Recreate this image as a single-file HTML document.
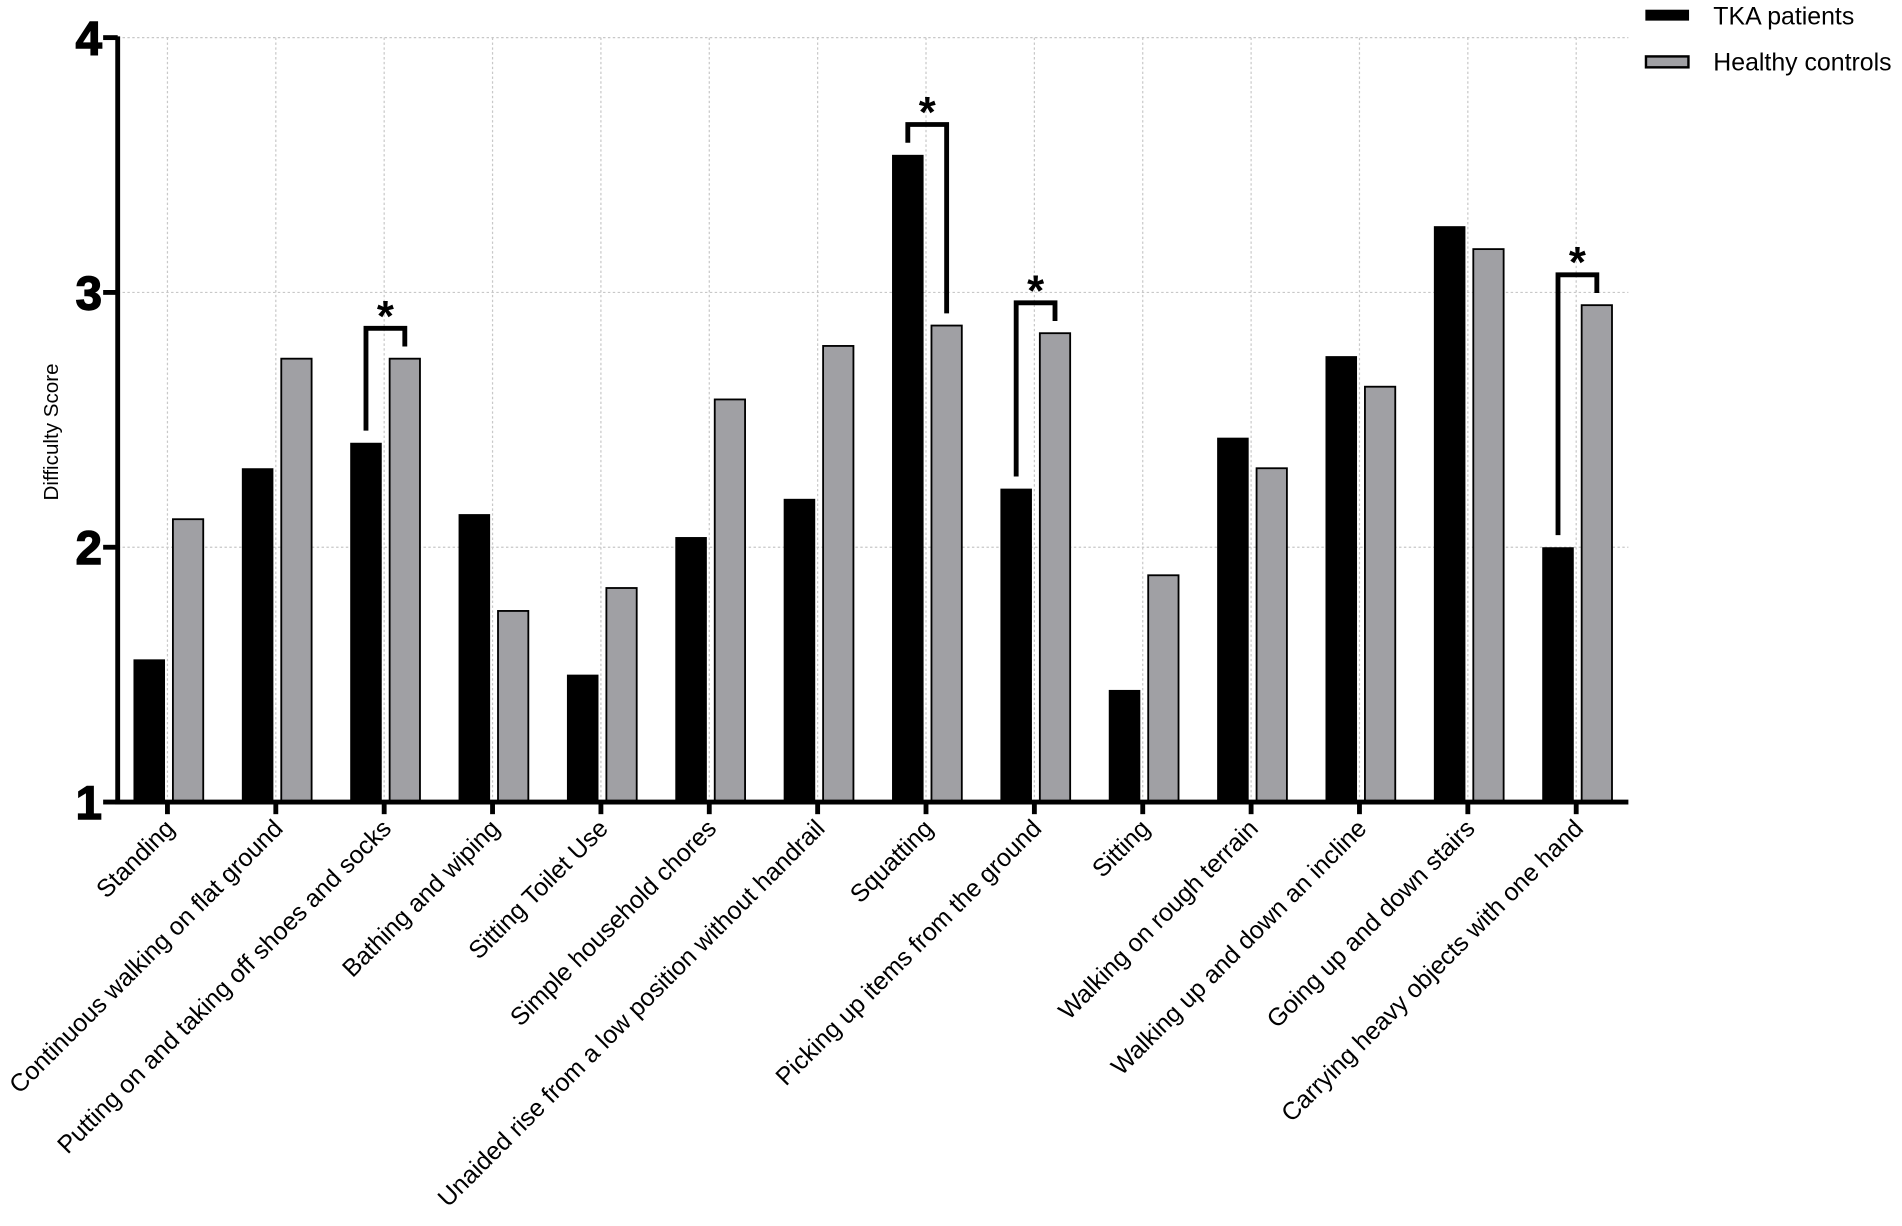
<!DOCTYPE html>
<html><head><meta charset="utf-8"><style>
html,body{margin:0;padding:0;background:#fff;}
svg{display:block;}
text{font-family:"Liberation Sans",Arial,sans-serif;}
</style></head><body>
<svg id="chart" width="1902" height="1226" viewBox="0 0 1567.5 1010.4" preserveAspectRatio="none" xmlns="http://www.w3.org/2000/svg">
<g id="grid"></g>
<g id="bars"></g>
<g id="axes"></g>
<g id="sig"></g>
<text x="48" y="356" font-size="17" text-anchor="middle" transform="rotate(-90 48 356)">Difficulty Score</text>
<g>
<g><rect x="1356" y="8" width="36" height="9" fill="#000"/><text x="1412" y="20" font-size="20.5">TKA patients</text></g>
<g><rect x="1356.5" y="46.5" width="35" height="9" fill="#a0a0a4" stroke="#000" stroke-width="2"/><text x="1412" y="58" font-size="20.5">Healthy controls</text></g>
</g>
</svg>
<script>
const categories=["Standing","Continuous walking on flat ground","Putting on and taking off shoes and socks","Bathing and wiping","Sitting Toilet Use","Simple household chores","Unaided rise from a low position without handrail","Squatting","Picking up items from the ground","Sitting","Walking on rough terrain","Walking up and down an incline","Going up and down stairs","Carrying heavy objects with one hand"];
const tkaValues=[1.56,2.31,2.41,2.13,1.50,2.04,2.19,3.54,2.23,1.44,2.43,2.75,3.26,2.00];
const controlValues=[2.11,2.74,2.74,1.75,1.84,2.58,2.79,2.87,2.84,1.89,2.31,2.63,3.17,2.95];
const yTicks=[1,2,3,4];
const sigIndices=[2,7,8,13];

const NS="http://www.w3.org/2000/svg";
const X0=97,X1=1342,Y0=661,Y1=31,YMIN=1,YMAX=4;
const step=(1299-138)/13;
function xc(i){return 138+i*step;}
function y(v){return Y0-(v-YMIN)/(YMAX-YMIN)*(Y0-Y1);}
function mk(tag,attrs,parent){const e=document.createElementNS(NS,tag);for(const k in attrs)e.setAttribute(k,attrs[k]);parent.appendChild(e);return e;}
const grid=document.getElementById('grid'),bars=document.getElementById('bars'),axes=document.getElementById('axes'),sig=document.getElementById('sig');

yTicks.forEach(t=>{if(t>YMIN){const l=mk('line',{x1:X0,x2:X1,y1:y(t),y2:y(t),stroke:'#c8c8c8','stroke-width':1,'stroke-dasharray':'2,2'},grid);

}});
categories.forEach((c,i)=>{const l=mk('line',{x1:xc(i),x2:xc(i),y1:Y1,y2:Y0,stroke:'#c8c8c8','stroke-width':1,'stroke-dasharray':'2,2'},grid);

});

categories.forEach((c,i)=>{
 const b=mk('rect',{x:xc(i)-28,y:y(tkaValues[i]),width:26,height:Y0-y(tkaValues[i]),fill:'#000'},bars);
 
 
 const g=mk('rect',{x:xc(i)+4.5,y:y(controlValues[i]),width:25,height:Y0-y(controlValues[i]),fill:'#a0a0a4',stroke:'#000','stroke-width':1.5},bars);
 
 
});

const ya=mk('line',{x1:X0,x2:X0,y1:Y1-1,y2:Y0+2,stroke:'#000','stroke-width':4},axes);


const xa=mk('line',{x1:X0-2,x2:X1,y1:Y0,y2:Y0,stroke:'#000','stroke-width':4},axes);


yTicks.forEach(t=>{
 const tk=mk('line',{x1:X0-12,x2:X0,y1:y(t),y2:y(t),stroke:'#000','stroke-width':4},axes);
 
 
 const tx=mk('text',{x:X0-13,y:y(t)+14,'font-size':39,'font-weight':'bold','text-anchor':'end',stroke:'#000','stroke-width':1.2},axes);
 tx.textContent=t;
 
 
});
categories.forEach((c,i)=>{
 const tk=mk('line',{x1:xc(i),x2:xc(i),y1:Y0,y2:Y0+10,stroke:'#000','stroke-width':4},axes);
 
 
 const ax=xc(i)+7,ay=684;
 const tx=mk('text',{x:ax,y:ay,'font-size':20.5,'text-anchor':'end',transform:'rotate(-45 '+ax+' '+ay+')'},axes);
 tx.textContent=c;
 
 
});

sigIndices.forEach(i=>{
 const top=Math.min(y(tkaValues[i]),y(controlValues[i]))-25;
 const lx=xc(i)-15,rx=xc(i)+17;
 const p=mk('path',{d:'M'+lx+' '+(y(tkaValues[i])-10)+' V'+top+' H'+rx+' V'+(y(controlValues[i])-10),fill:'none',stroke:'#000','stroke-width':4},sig);
 
 
 const s=mk('text',{x:xc(i)+1,y:top+2,'font-size':36,'font-weight':'bold','text-anchor':'middle'},sig);
 s.textContent='*';
 
 
});
</script>
</body></html>
